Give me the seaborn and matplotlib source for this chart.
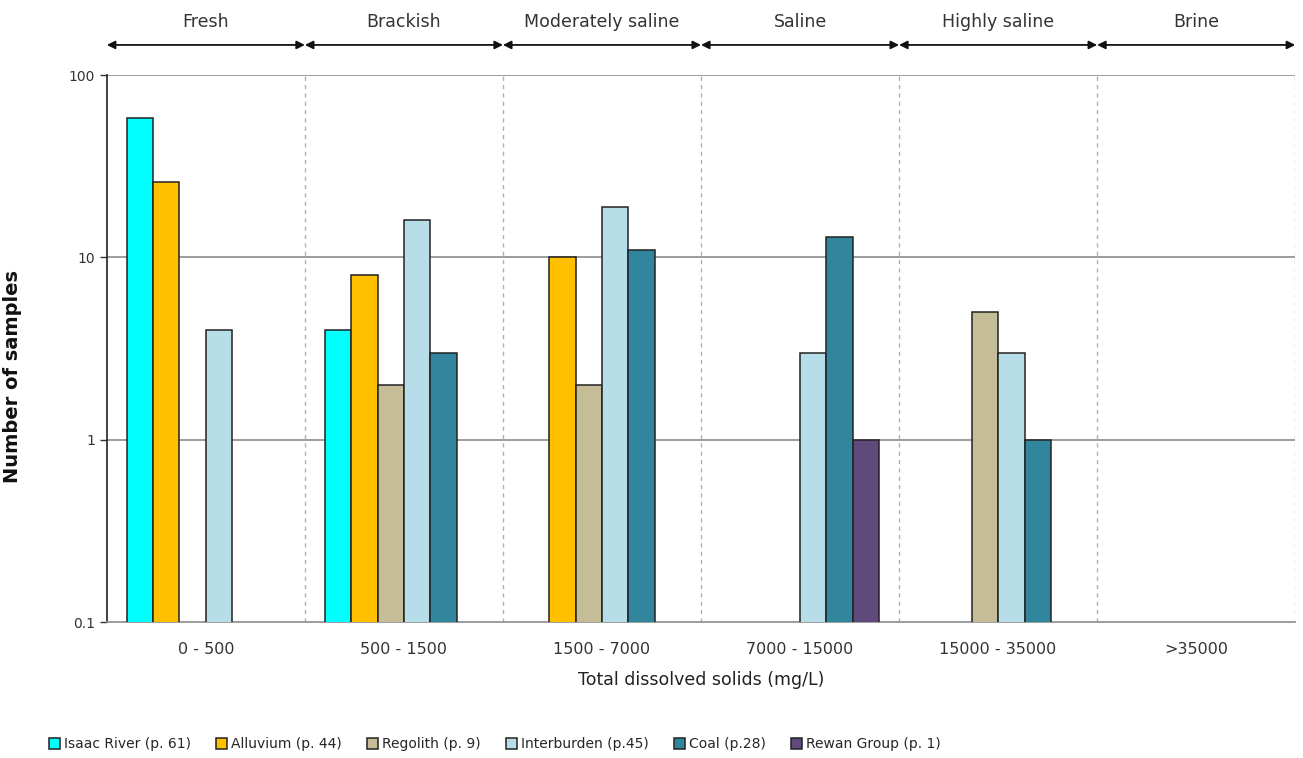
import pandas as pd
import seaborn as sns
import matplotlib.pyplot as plt
from matplotlib.ticker import FixedLocator, FixedFormatter, NullLocator

# --- Data ---
tds_classes = ["0 - 500", "500 - 1500", "1500 - 7000", "7000 - 15000", "15000 - 35000", ">35000"]
salinity = ["Fresh", "Brackish", "Moderately saline", "Saline", "Highly saline", "Brine"]
series = ["Isaac River (p. 61)", "Alluvium (p. 44)", "Regolith (p. 9)",
          "Interburden (p.45)", "Coal (p.28)", "Rewan Group (p. 1)"]

isaac_river = [58, 4, None, None, None, None]
alluvium = [26, 8, 10, None, None, None]
regolith = [None, 2, 2, None, 5, None]
interburden = [4, 16, 19, 3, 3, None]
coal = [None, 3, 11, 13, 1, None]
rewan_group = [None, None, None, 1, None, None]

colors = ["#00FFFF", "#FFC000", "#C4BD97", "#B7DEE8", "#31859C", "#604A7B"]

rows = []
for name, vals in zip(series, [isaac_river, alluvium, regolith, interburden, coal, rewan_group]):
    for cls, v in zip(tds_classes, vals):
        if v is not None:
            rows.append({"tds": cls, "series": name, "count": v})
df = pd.DataFrame(rows)

# --- Plot ---
sns.set_style("white")
plt.rcParams['font.family'] = ['DejaVu Sans']

fig = plt.figure(figsize=(13.03, 7.58), dpi=100)
ax = fig.add_axes([0.082, 0.179, 0.912, 0.722])

sns.barplot(data=df, x="tds", y="count", hue="series", order=tds_classes,
            hue_order=series, palette=colors, saturation=1, edgecolor="#222222",
            linewidth=1.1, width=0.8, errorbar=None, ax=ax, legend=True, zorder=3)

ax.set_yscale("log")
ax.set_ylim(0.1, 100)
ax.set_xlim(-0.5, len(tds_classes) - 0.5)
ax.yaxis.set_major_locator(FixedLocator([0.1, 1, 10, 100]))
ax.yaxis.set_major_formatter(FixedFormatter(["0.1", "1", "10", "100"]))
ax.yaxis.set_minor_locator(NullLocator())
ax.tick_params(axis="y", which="major", left=True, length=5, width=1, labelsize=10, colors="#333333")
ax.tick_params(axis="x", length=0, labelsize=11.5, colors="#333333", pad=14)

for y in [1, 10, 100]:
    ax.axhline(y, color="#8c8c8c", lw=1.2, zorder=1)
for i in range(len(tds_classes)):
    ax.axvline(i + 0.5, color="#b0b0b0", lw=1, ls=(0, (3, 3)), zorder=1)

for s in ["top", "right"]:
    ax.spines[s].set_visible(False)
ax.spines["left"].set_color("#222222")
ax.spines["left"].set_linewidth(1.2)
ax.spines["bottom"].set_color("#8c8c8c")
ax.spines["bottom"].set_linewidth(1.2)

ax.set_xlabel("Total dissolved solids (mg/L)", fontsize=12.5, labelpad=10, color="#222222")
ax.set_ylabel("Number of samples", fontsize=14, fontweight="bold", color="#111111")
ax.yaxis.set_label_coords(-0.071, 0.45)

# salinity class arrows above the plot
trans = ax.get_xaxis_transform()
for i, lab in enumerate(salinity):
    ax.annotate("", xy=(i + 0.5, 1.055), xytext=(i - 0.5, 1.055), xycoords=trans,
                textcoords=trans,
                arrowprops=dict(arrowstyle="<|-|>", color="#111111", lw=1.3,
                                mutation_scale=12, shrinkA=0, shrinkB=0),
                annotation_clip=False)
    ax.text(i, 1.097, lab, transform=trans, ha="center", va="center",
            fontsize=12.5, color="#333333")

handles, labels = ax.get_legend_handles_labels()
ax.get_legend().remove()
fig.legend(handles, labels, loc="center left", bbox_to_anchor=(0.032, 0.018), ncol=6,
           frameon=False, fontsize=10, handlelength=0.8, handleheight=0.8,
           handletextpad=0.3, columnspacing=1.8, borderpad=0)

plt.savefig("out.png", dpi=100)
plt.close()
